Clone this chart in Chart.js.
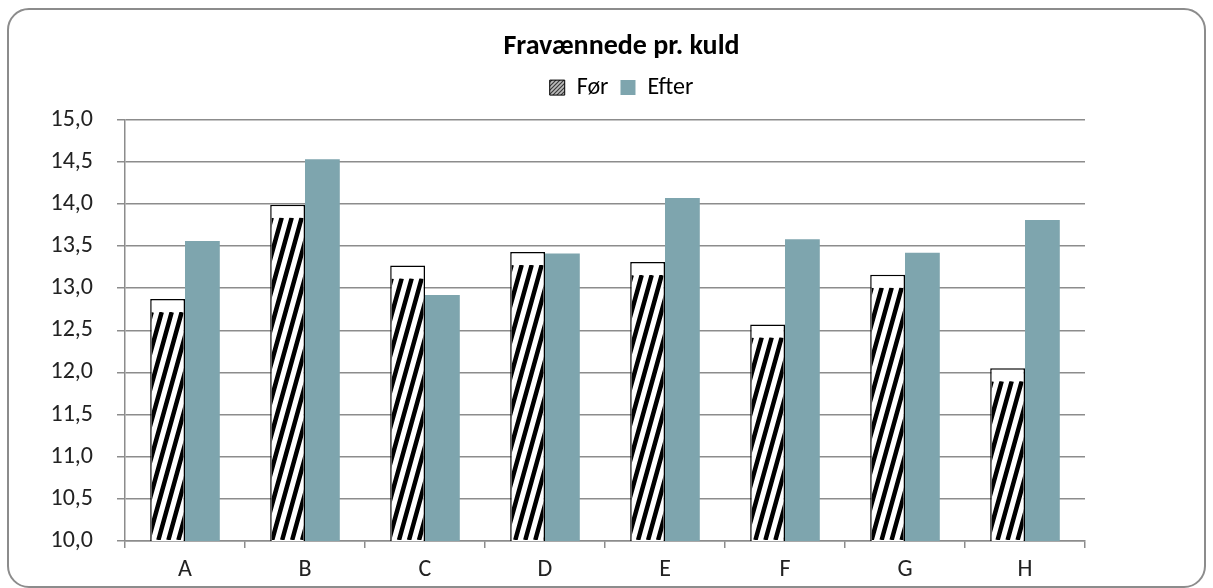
<!DOCTYPE html>
<html>
<head>
<meta charset="utf-8">
<script src="https://cdn.jsdelivr.net/npm/chart.js@4.4.1/dist/chart.umd.min.js"></script>
<style>
  body { margin: 0; background: #fff; }
  #wrap { position: relative; width: 1213px; height: 588px; }
  #frame {
    position: absolute; left: 7px; top: 8px; width: 1199px; height: 580px;
    border: 2px solid #8c8c8c; border-radius: 22px; box-sizing: border-box;
    pointer-events: none;
  }
</style>
</head>
<body>
<div id="wrap">
  <canvas id="myChart" width="1213" height="588"></canvas>
  <div id="frame"></div>
</div>
<script>
// data
const categories = ['A', 'B', 'C', 'D', 'E', 'F', 'G', 'H'];
const forValues = [12.87, 13.99, 13.27, 13.43, 13.31, 12.57, 13.16, 12.05];
const efterValues = [13.56, 14.53, 12.92, 13.41, 14.07, 13.58, 13.42, 13.81];
const seriesNames = ['Før', 'Efter'];
const yMin = 10, yMax = 15, yStep = 0.5;

const fontFamily = 'Carlito, Lato, sans-serif';
const efterColor = '#7ea5ae';

// small hatch pattern for the legend swatch
function legendPattern() {
	const c = document.createElement('canvas');
	c.width = 4; c.height = 4;
	const g = c.getContext('2d');
	g.fillStyle = '#bdbdbd';
	g.fillRect(0, 0, 4, 4);
	g.strokeStyle = '#3a3a3a';
	g.lineWidth = 1.2;
	g.beginPath();
	g.moveTo(0, 4); g.lineTo(4, 0);
	g.moveTo(-1, 1); g.lineTo(1, -1);
	g.moveTo(3, 5); g.lineTo(5, 3);
	g.stroke();
	return document.getElementById('myChart').getContext('2d').createPattern(c, 'repeat');
}

// draws the black stripes inside the "Før" bars
const stripes = {
	id: 'stripes',
	afterDatasetDraw(chart, args) {
		if (args.index !== 0) return;
		const ctx = chart.ctx;
		args.meta.data.forEach(bar => {
			const p = bar.getProps(['x', 'y', 'base', 'width'], true);
			const left = p.x - p.width / 2 + 1.5;
			const right = p.x + p.width / 2 - 1.5;
			const top = p.y + 13;
			const bottom = Math.min(p.base, chart.chartArea.bottom) - 1;
			if (bottom <= top) return;
			ctx.save();
			ctx.beginPath();
			ctx.rect(left, top, right - left, bottom - top);
			ctx.clip();
			ctx.strokeStyle = '#000';
			ctx.lineWidth = 4.5;
			const slant = (bottom - top) / 3.6;
			ctx.beginPath();
			for (let sx = left - slant - 10; sx < right + 10; sx += 10) {
				ctx.moveTo(sx, bottom);
				ctx.lineTo(sx + slant, top);
			}
			ctx.stroke();
			ctx.restore();
		});
	}
};

// a bit more room under the legend
const legendGap = {
	id: 'legendGap',
	beforeInit(chart) {
		const fit = chart.legend.fit;
		chart.legend.fit = function() {
			fit.bind(chart.legend)();
			this.height += 10;
		};
	}
};

const data = {
	labels: categories,
	datasets: [{
		label: seriesNames[0],
		data: forValues,
		backgroundColor: '#ffffff',
		borderColor: '#000000',
		borderWidth: 1.5,
		categoryPercentage: 0.58,
		barPercentage: 1.0
	}, {
		label: seriesNames[1],
		data: efterValues,
		backgroundColor: efterColor,
		borderWidth: 0,
		categoryPercentage: 0.58,
		barPercentage: 1.0
	}]
};

const config = {
	type: 'bar',
	data,
	options: {
		responsive: false,
		animation: false,
		layout: { padding: { left: 30, right: 0, top: 0, bottom: 0 } },
		plugins: {
			title: {
				display: true,
				text: 'Fravænnede pr. kuld',
				color: '#000',
				font: { family: fontFamily, size: 28, weight: 'bold' },
				padding: { top: 30, bottom: 0 }
			},
			legend: {
				display: true,
				labels: {
					color: '#222',
					font: { family: fontFamily, size: 24 },
					boxWidth: 15,
					boxHeight: 15,
					padding: 12,
					generateLabels(chart) {
						return chart.data.datasets.map((ds, i) => ({
							text: ds.label,
							fillStyle: i === 0 ? legendPattern() : efterColor,
							strokeStyle: i === 0 ? '#000' : efterColor,
							lineWidth: i === 0 ? 1 : 0,
							datasetIndex: i,
							hidden: false
						}));
					}
				}
			},
			tooltip: { enabled: false }
		},
		scales: {
			x: {
				grid: { drawOnChartArea: false, color: '#8c8c8c', lineWidth: 1.5, tickLength: 7, offset: true },
				border: { color: '#8c8c8c', width: 1.5 },
				ticks: { color: '#222', font: { family: fontFamily, size: 24 }, padding: 8 },
				afterFit(scale) { scale.height = 47; }
			},
			y: {
				min: yMin,
				max: yMax,
				ticks: {
					stepSize: yStep,
					color: '#222',
					font: { family: fontFamily, size: 24 },
					padding: 24,
					callback: v => v.toFixed(1).replace('.', ',')
				},
				grid: { color: '#8c8c8c', lineWidth: 1.5, tickLength: 8 },
				border: { color: '#8c8c8c', width: 1.5 },
				afterFit(scale) { scale.width = 95; }
			},
			yRight: {
				position: 'right',
				display: true,
				grid: { display: false },
				border: { display: false },
				ticks: { display: false },
				afterFit(scale) { scale.width = 128; }
			}
		}
	},
	plugins: [stripes, legendGap]
};

new Chart(document.getElementById('myChart'), config);
</script>
</body>
</html>
